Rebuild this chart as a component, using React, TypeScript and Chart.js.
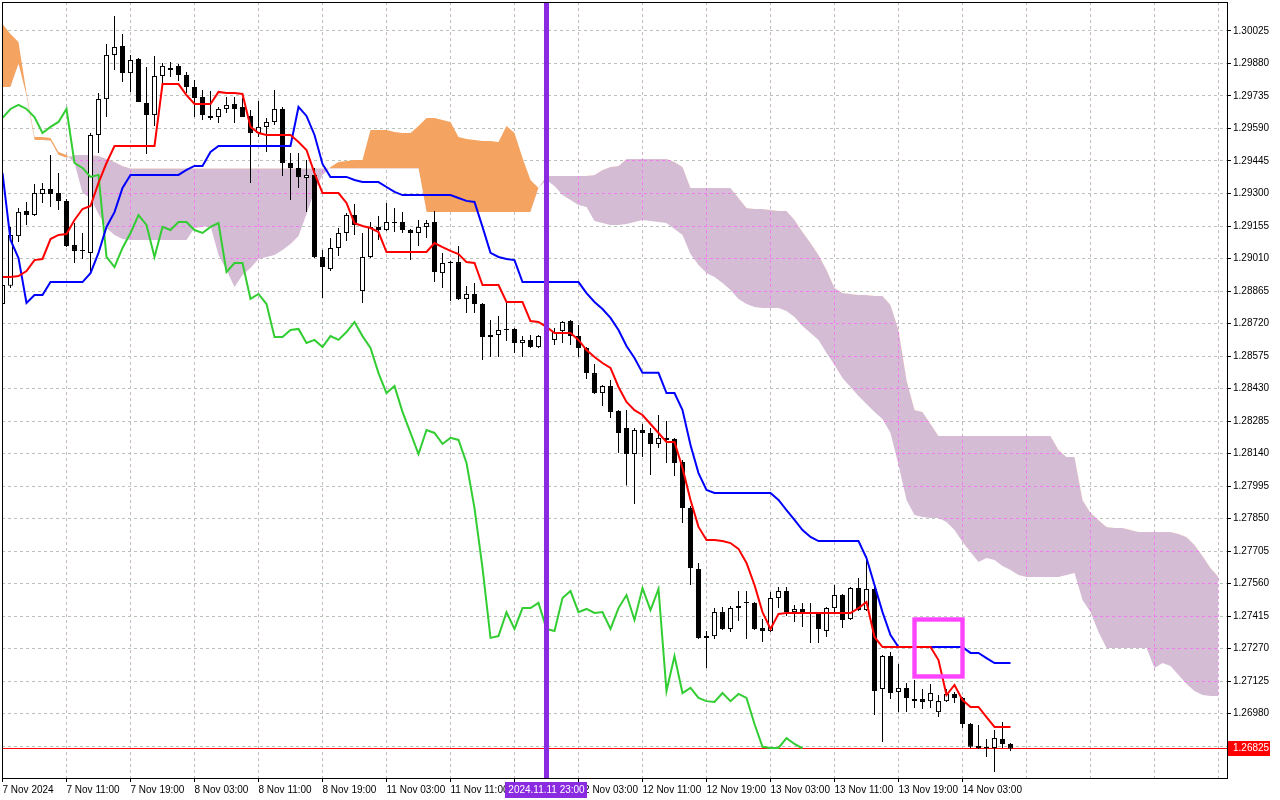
import { useEffect, useRef } from "react";
import { Chart, registerables, type Plugin } from "chart.js";

Chart.register(...registerables);

// H1 candles, bar index 0 = 7 Nov 2024 03:00
const OPEN = [
  1.28807, 1.28888, 1.2911, 1.29222, 1.29204, 1.29298, 1.2932, 1.29302, 1.29267, 1.2907,
  1.29048, 1.29035, 1.29561, 1.29721, 1.29918, 1.29958, 1.29837, 1.299, 1.29704, 1.2965,
  1.29824, 1.29851, 1.29869, 1.29828, 1.29775, 1.2973, 1.29646, 1.29641, 1.29677, 1.29699,
  1.29686, 1.29646, 1.2957, 1.29597, 1.29619, 1.29677, 1.29436, 1.29414, 1.29369, 1.29383,
  1.29017, 1.28963, 1.29057, 1.29124, 1.29204, 1.28865, 1.29017, 1.29151, 1.29137, 1.29168,
  1.29173, 1.29137, 1.29124, 1.29151, 1.29173, 1.28945, 1.28994, 1.28994, 1.2883, 1.28852,
  1.28807, 1.28669, 1.28669, 1.28691, 1.28696, 1.28633, 1.28647, 1.28615, 1.28664, 1.28647,
  1.28687, 1.28731, 1.28664, 1.28611, 1.28499, 1.2841, 1.28441, 1.2833, 1.28254, 1.28138,
  1.28245, 1.28232, 1.28183, 1.2821, 1.28205, 1.28102, 1.27897, 1.27625, 1.27318, 1.27326,
  1.27433, 1.27358, 1.2746, 1.27478, 1.27474, 1.27362, 1.27349, 1.27496, 1.27527, 1.27433,
  1.27447, 1.27429, 1.27429, 1.27349, 1.27451, 1.27509, 1.27402, 1.2754, 1.27442, 1.27536,
  1.2709, 1.27237, 1.27077, 1.27095, 1.27045, 1.27045, 1.27036, 1.26987, 1.27036, 1.27068,
  1.2705, 1.26934, 1.26836, 1.26832, 1.26827, 1.26867, 1.26845,
];
const HIGH = [
  1.28901, 1.29151, 1.29235, 1.29262, 1.29342, 1.29347, 1.29472, 1.29391, 1.29276, 1.29168,
  1.29124, 1.2957, 1.29748, 1.29967, 1.30092, 1.30011, 1.29918, 1.29904, 1.29864, 1.29913,
  1.29882, 1.29886, 1.29878, 1.29842, 1.29806, 1.29762, 1.29757, 1.29686, 1.2973, 1.2973,
  1.29726, 1.29672, 1.29713, 1.29637, 1.29762, 1.29686, 1.29481, 1.29481, 1.29449, 1.29414,
  1.29048, 1.29102, 1.29146, 1.29213, 1.29253, 1.29124, 1.29173, 1.292, 1.29258, 1.29235,
  1.29217, 1.29142, 1.29182, 1.29182, 1.29222, 1.29035, 1.28999, 1.29066, 1.28887, 1.28901,
  1.28812, 1.28736, 1.28754, 1.28816, 1.287, 1.28664, 1.28669, 1.28669, 1.28691, 1.287,
  1.28731, 1.28736, 1.28714, 1.28615, 1.2854, 1.28446, 1.28468, 1.28334, 1.28334, 1.28254,
  1.28272, 1.28254, 1.28312, 1.28285, 1.2821, 1.28111, 1.27906, 1.27652, 1.27349, 1.27451,
  1.27456, 1.2746, 1.27527, 1.27527, 1.27478, 1.27402, 1.27523, 1.27545, 1.27545, 1.27465,
  1.27474, 1.27474, 1.27433, 1.27456, 1.27554, 1.27514, 1.27545, 1.27585, 1.27683, 1.27563,
  1.27242, 1.27255, 1.27202, 1.27117, 1.2713, 1.2709, 1.27112, 1.27063, 1.2709, 1.27077,
  1.27054, 1.26938, 1.26929, 1.26867, 1.26907, 1.26943, 1.26849,
];
const LOW = [
  1.28798, 1.28879, 1.29084, 1.2916, 1.292, 1.29258, 1.2924, 1.29226, 1.29061, 1.2899,
  1.29008, 1.28945, 1.29481, 1.29641, 1.29851, 1.29797, 1.29753, 1.29708, 1.29476, 1.29601,
  1.29793, 1.2982, 1.29802, 1.29748, 1.29641, 1.29628, 1.29628, 1.29614, 1.29659, 1.29614,
  1.29641, 1.29347, 1.29552, 1.29485, 1.29606, 1.29378, 1.29271, 1.29325, 1.29217, 1.29012,
  1.28834, 1.28954, 1.29021, 1.29088, 1.29115, 1.28812, 1.29012, 1.29093, 1.29133, 1.29128,
  1.29124, 1.29003, 1.29066, 1.29102, 1.28905, 1.28879, 1.28821, 1.28825, 1.28767, 1.28767,
  1.28557, 1.28571, 1.28571, 1.28642, 1.28589, 1.28571, 1.28611, 1.28611, 1.28624, 1.28624,
  1.28633, 1.28624, 1.28571, 1.28473, 1.28406, 1.28352, 1.28299, 1.28143, 1.27998, 1.27915,
  1.28125, 1.28045, 1.28165, 1.28098, 1.2804, 1.2783, 1.27554, 1.27313, 1.27184, 1.27313,
  1.27353, 1.27344, 1.27393, 1.27313, 1.27353, 1.273, 1.27344, 1.27451, 1.27416, 1.27389,
  1.27367, 1.27295, 1.27295, 1.27322, 1.27433, 1.27362, 1.27398, 1.27438, 1.27438, 1.26974,
  1.26854, 1.27045, 1.26987, 1.26987, 1.27005, 1.27001, 1.27005, 1.26965, 1.27032, 1.27028,
  1.26916, 1.26827, 1.26823, 1.26787, 1.2672, 1.26827, 1.26814,
];
const CLOSE = [
  1.28892, 1.29115, 1.29218, 1.29204, 1.29302, 1.2932, 1.29298, 1.29267, 1.29066, 1.29044,
  1.29044, 1.29561, 1.29721, 1.29918, 1.29953, 1.29837, 1.29895, 1.29708, 1.2965, 1.29824,
  1.29869, 1.2986, 1.29828, 1.29775, 1.29726, 1.2965, 1.29637, 1.29677, 1.29695, 1.29677,
  1.29641, 1.2957, 1.29597, 1.29619, 1.29677, 1.29436, 1.29414, 1.29374, 1.29383, 1.29017,
  1.28972, 1.29057, 1.29124, 1.29204, 1.2916, 1.29017, 1.29151, 1.29137, 1.29173, 1.29173,
  1.29137, 1.29124, 1.29151, 1.29168, 1.2895, 1.2899, 1.2899, 1.2883, 1.28852, 1.28807,
  1.2866, 1.2866, 1.28691, 1.28696, 1.28633, 1.28647, 1.28615, 1.28664, 1.28647, 1.28682,
  1.28727, 1.28664, 1.28611, 1.28499, 1.2841, 1.28441, 1.28326, 1.28232, 1.28138, 1.28245,
  1.28232, 1.28183, 1.2821, 1.28201, 1.28098, 1.27897, 1.2763, 1.27318, 1.27326, 1.27433,
  1.27358, 1.27451, 1.27451, 1.27474, 1.27358, 1.27349, 1.27496, 1.27527, 1.27433, 1.27447,
  1.27429, 1.27433, 1.27358, 1.27451, 1.27509, 1.27398, 1.2754, 1.27442, 1.27536, 1.27081,
  1.27237, 1.27072, 1.27095, 1.2705, 1.27036, 1.27032, 1.27072, 1.27036, 1.27068, 1.2705,
  1.26934, 1.26832, 1.26827, 1.26827, 1.26871, 1.26845, 1.26825,
];

const TENKAN = [
  1.28928, 1.28928, 1.28932, 1.28954, 1.29003, 1.29008, 1.29097, 1.29115, 1.29119, 1.29182,
  1.29231, 1.29244, 1.29347, 1.29436, 1.29512, 1.29512, 1.29512, 1.29512, 1.29512, 1.29512,
  1.29788, 1.29788, 1.29788, 1.29739, 1.29699, 1.29699, 1.29699, 1.29753, 1.29748, 1.29748,
  1.29744, 1.29597, 1.2957, 1.29561, 1.29561, 1.29561, 1.29561, 1.2953, 1.29494, 1.29391,
  1.29302, 1.29302, 1.29302, 1.29258, 1.29168, 1.29155, 1.29146, 1.29128, 1.29039, 1.29039,
  1.29039, 1.29039, 1.29039, 1.29039, 1.29079, 1.29061, 1.29044, 1.2903, 1.28994, 1.2899,
  1.28892, 1.28892, 1.28892, 1.28816, 1.28816, 1.28816, 1.28731, 1.28727, 1.28705, 1.28678,
  1.28678, 1.28678, 1.28647, 1.28602, 1.28571, 1.28544, 1.28522, 1.28437, 1.2837, 1.28334,
  1.28312, 1.28272, 1.28232, 1.28192, 1.28192, 1.28076, 1.27933, 1.27813, 1.27755, 1.27755,
  1.2775, 1.27741, 1.27715, 1.27652, 1.27554, 1.27433, 1.27358, 1.27425, 1.27429, 1.27429,
  1.27429, 1.27429, 1.27429, 1.27429, 1.27429, 1.27429, 1.27429, 1.27451, 1.27478, 1.27322,
  1.27277, 1.27277, 1.27277, 1.27277, 1.27277, 1.27277, 1.27277, 1.27219, 1.27063, 1.27108,
  1.27041, 1.2701, 1.2701, 1.26965, 1.26921, 1.26921, 1.26921,
];
const KIJUN = [
  1.29391, 1.29093, 1.29012, 1.28812, 1.28847, 1.28847, 1.28905, 1.28905, 1.28905, 1.28905,
  1.28905, 1.28945, 1.29035, 1.29151, 1.29217, 1.29325, 1.29383, 1.29383, 1.29383, 1.29383,
  1.29383, 1.29383, 1.29383, 1.29405, 1.29423, 1.29423, 1.29485, 1.29512, 1.29512, 1.29512,
  1.29512, 1.29512, 1.29512, 1.29512, 1.29512, 1.29512, 1.29512, 1.29686, 1.29646, 1.29561,
  1.29432, 1.29374, 1.29374, 1.29374, 1.2936, 1.29351, 1.29351, 1.29351, 1.29329, 1.29307,
  1.29293, 1.29293, 1.29293, 1.29293, 1.29293, 1.29293, 1.29293, 1.2928, 1.29267, 1.29262,
  1.29151, 1.29035, 1.29017, 1.29008, 1.29003, 1.28905, 1.28905, 1.28905, 1.28905, 1.28905,
  1.28905, 1.28905, 1.28905, 1.28856, 1.28816, 1.28785, 1.28745, 1.28691, 1.2862, 1.28566,
  1.285, 1.285, 1.285, 1.2841, 1.2841, 1.28334, 1.28178, 1.28053, 1.27978, 1.27964,
  1.27964, 1.27964, 1.27964, 1.27964, 1.27964, 1.27964, 1.27964, 1.27933, 1.27888, 1.27844,
  1.27799, 1.27768, 1.2775, 1.2775, 1.2775, 1.2775, 1.2775, 1.2775, 1.27674, 1.27554,
  1.27433, 1.27331, 1.27277, 1.27277, 1.27277, 1.27277, 1.27277, 1.27277, 1.27277, 1.27277,
  1.27277, 1.27251, 1.27251, 1.27228, 1.27206, 1.27206, 1.27206,
];
// lagging span, plotted from bar 0 to bar 100
const CHIKOU = [
  1.29637, 1.29677, 1.29695, 1.29677, 1.29641, 1.2957, 1.29597, 1.29619, 1.29677, 1.29436,
  1.29414, 1.29374, 1.29383, 1.29017, 1.28972, 1.29057, 1.29124, 1.29204, 1.2916, 1.29017,
  1.29151, 1.29137, 1.29173, 1.29173, 1.29137, 1.29124, 1.29151, 1.29168, 1.2895, 1.2899,
  1.2899, 1.2883, 1.28852, 1.28807, 1.2866, 1.2866, 1.28691, 1.28696, 1.28633, 1.28647,
  1.28615, 1.28664, 1.28647, 1.28682, 1.28727, 1.28664, 1.28611, 1.28499, 1.2841, 1.28441,
  1.28326, 1.28232, 1.28138, 1.28245, 1.28232, 1.28183, 1.2821, 1.28201, 1.28098, 1.27897,
  1.2763, 1.27318, 1.27326, 1.27433, 1.27358, 1.27451, 1.27451, 1.27474, 1.27358, 1.27349,
  1.27496, 1.27527, 1.27433, 1.27447, 1.27429, 1.27433, 1.27358, 1.27451, 1.27509, 1.27398,
  1.2754, 1.27442, 1.27536, 1.27081, 1.27237, 1.27072, 1.27095, 1.2705, 1.27036, 1.27032,
  1.27072, 1.27036, 1.27068, 1.2705, 1.26934, 1.26832, 1.26827, 1.26827, 1.26871, 1.26845,
  1.26825,
];
// cloud, bar 0 to bar 152 (26 bars past the last candle)
const SPAN_A = [
  1.30056, 1.30011, 1.29976, 1.29748, 1.29552, 1.29552, 1.29548, 1.29485, 1.29472, 1.29436,
  1.29302, 1.2928, 1.29209, 1.29146, 1.29115, 1.29097, 1.29093, 1.29093, 1.29093, 1.29093,
  1.29093, 1.29093, 1.29093, 1.29093, 1.29146, 1.29151, 1.29155, 1.29026, 1.28959, 1.28883,
  1.28937, 1.28968, 1.29008, 1.29017, 1.29026, 1.29048, 1.29075, 1.2911, 1.29209, 1.29311,
  1.29383, 1.29418, 1.2944, 1.29445, 1.29449, 1.29449, 1.29583, 1.29583, 1.29583, 1.29574,
  1.2957, 1.2957, 1.29601, 1.29637, 1.29637, 1.29628, 1.29619, 1.29552, 1.29543, 1.29539,
  1.29534, 1.29534, 1.2953, 1.29601, 1.2957, 1.29458, 1.2936, 1.29325, 1.2936, 1.29333,
  1.29293, 1.29271, 1.29249, 1.2924, 1.29177, 1.29168, 1.2916, 1.2916, 1.29164, 1.29173,
  1.29182, 1.29177, 1.29173, 1.29168, 1.29142, 1.29115, 1.2903, 1.28981, 1.28945, 1.28928,
  1.28901, 1.2887, 1.28829, 1.28807, 1.28794, 1.28789, 1.28789, 1.28789, 1.28776, 1.28749,
  1.28709, 1.28678, 1.28647, 1.28589, 1.28535, 1.28477, 1.28437, 1.28397, 1.28361, 1.28325,
  1.28294, 1.28232, 1.28089, 1.27933, 1.27866, 1.27857, 1.27853, 1.27853, 1.27835, 1.27799,
  1.27746, 1.27701, 1.27657, 1.27674, 1.27665, 1.27639, 1.27621, 1.27598, 1.2759, 1.2759,
  1.2759, 1.2759, 1.2759, 1.27598, 1.27607, 1.27487, 1.27433, 1.27344, 1.27273, 1.27273,
  1.27273, 1.27273, 1.27273, 1.27273, 1.27184, 1.27206, 1.27193, 1.27153, 1.27112, 1.27081,
  1.27063, 1.27059, 1.27059,
];
const SPAN_B = [
  1.29775, 1.29775, 1.29878, 1.29735, 1.29539, 1.29539, 1.29535, 1.29472, 1.29459, 1.29472,
  1.29472, 1.29472, 1.29467, 1.29454, 1.2944, 1.29423, 1.29412, 1.29412, 1.29412, 1.29412,
  1.29412, 1.29412, 1.29412, 1.29412, 1.29412, 1.29412, 1.29412, 1.29412, 1.29412, 1.29412,
  1.29412, 1.29412, 1.29412, 1.29412, 1.29412, 1.29412, 1.29412, 1.29412, 1.29412, 1.29412,
  1.29412, 1.29412, 1.29412, 1.29412, 1.29412, 1.29412, 1.29412, 1.29412, 1.29412, 1.29412,
  1.29412, 1.29412, 1.29412, 1.29217, 1.29217, 1.29217, 1.29217, 1.29217, 1.29217, 1.29217,
  1.29217, 1.29217, 1.29217, 1.29217, 1.29217, 1.29217, 1.29217, 1.29325, 1.29378, 1.29378,
  1.29378, 1.29378, 1.29378, 1.29378, 1.29383, 1.29405, 1.29418, 1.29423, 1.29454, 1.29454,
  1.29454, 1.29454, 1.29454, 1.29454, 1.2944, 1.29418, 1.29325, 1.29325, 1.29325, 1.29325,
  1.29325, 1.29325, 1.2928, 1.29235, 1.29231, 1.29231, 1.29226, 1.29222, 1.29222, 1.29182,
  1.29128, 1.29079, 1.29026, 1.28959, 1.28879, 1.28856, 1.28852, 1.28847, 1.28847, 1.28843,
  1.28843, 1.28803, 1.28691, 1.28468, 1.28334, 1.28325, 1.28272, 1.28218, 1.28218, 1.28218,
  1.28218, 1.28218, 1.28218, 1.28218, 1.28218, 1.28218, 1.28218, 1.28218, 1.28218, 1.28218,
  1.28218, 1.28218, 1.28156, 1.28125, 1.28125, 1.27933, 1.27875, 1.27844, 1.27813, 1.27808,
  1.27808, 1.27799, 1.2779, 1.2779, 1.2779, 1.2779, 1.2779, 1.27781, 1.27768, 1.27732,
  1.27683, 1.2763, 1.2759,
];

// one label every 8 bars
const TIME_LABELS = [
  "7 Nov 2024", "7 Nov 11:00", "7 Nov 19:00", "8 Nov 03:00", "8 Nov 11:00", "8 Nov 19:00",
  "11 Nov 03:00", "11 Nov 11:00", "11 Nov 19:00", "12 Nov 03:00", "12 Nov 11:00", "12 Nov 19:00",
  "13 Nov 03:00", "13 Nov 11:00", "13 Nov 19:00", "14 Nov 03:00",
];
const PRICE_TICKS = [
  1.30025, 1.2988, 1.29735, 1.2959, 1.29445, 1.293, 1.29155, 1.2901, 1.28865, 1.2872, 1.28575, 1.2843,
  1.28285, 1.2814, 1.27995, 1.2785, 1.27705, 1.2756, 1.27415, 1.2727, 1.27125, 1.2698, 1.26835,
];
const LAST_PRICE = 1.26825;
const MARKER_BAR = 68;
const MARKER_LABEL = "2024.11.11 23:00";
const BOX_BARS = [114, 120];
const BOX_PRICES = [1.274, 1.27146];

const FONT = "'Liberation Sans', Arial, sans-serif";
const LAST_GRID_BAR = 152;

const points = (arr: number[]) => arr.map((y, x) => ({ x, y }));
const align = (p: number) => Math.round(p - 0.5) + 0.5;

const overlays: Plugin = {
  id: "mtOverlays",
  beforeDatasetsDraw(chart) {
    const { ctx, chartArea: a, scales } = chart;
    const py = align(scales.y.getPixelForValue(LAST_PRICE));
    ctx.save();
    ctx.strokeStyle = "#ff0000";
    ctx.lineWidth = 1;
    ctx.beginPath();
    ctx.moveTo(a.left, py);
    ctx.lineTo(a.right, py);
    ctx.stroke();
    ctx.restore();
  },
  // grid shows through the bearish (thistle) cloud in magenta
  afterDatasetDraw(chart, args) {
    if (args.index !== 0) return;
    const { ctx, chartArea: a, scales } = chart;
    const { x, y } = scales;
    ctx.save();
    ctx.beginPath();
    SPAN_B.forEach((b, i) => {
      const px = x.getPixelForValue(i);
      const py = y.getPixelForValue(b);
      if (i === 0) ctx.moveTo(px, py);
      else ctx.lineTo(px, py);
    });
    for (let i = SPAN_B.length - 1; i >= 0; i--) {
      ctx.lineTo(x.getPixelForValue(i), y.getPixelForValue(Math.min(SPAN_A[i], SPAN_B[i])));
    }
    ctx.closePath();
    ctx.clip();
    ctx.strokeStyle = "#f07cf0";
    ctx.lineWidth = 1;
    ctx.setLineDash([3, 3]);
    for (let v = 0; v <= LAST_GRID_BAR; v += 8) {
      const px = align(x.getPixelForValue(v));
      ctx.beginPath();
      ctx.moveTo(px, a.top);
      ctx.lineTo(px, a.bottom);
      ctx.stroke();
    }
    PRICE_TICKS.forEach((p) => {
      const py = align(y.getPixelForValue(p));
      ctx.beginPath();
      ctx.moveTo(a.left, py);
      ctx.lineTo(a.right, py);
      ctx.stroke();
    });
    ctx.restore();
  },
  afterDatasetsDraw(chart) {
    const { ctx, chartArea: a, scales } = chart;
    const { x, y } = scales;
    ctx.save();
    const vx = x.getPixelForValue(MARKER_BAR);
    ctx.fillStyle = "#8a2be2";
    ctx.fillRect(Math.round(vx - 2.5), a.top, 5, a.bottom - a.top);

    const bx0 = x.getPixelForValue(BOX_BARS[0]);
    const bx1 = x.getPixelForValue(BOX_BARS[1]);
    const by0 = y.getPixelForValue(BOX_PRICES[0]);
    const by1 = y.getPixelForValue(BOX_PRICES[1]);
    ctx.strokeStyle = "#ff44ff";
    ctx.lineWidth = 4.4;
    ctx.strokeRect(bx0, by0, bx1 - bx0, by1 - by0);
    ctx.restore();
  },
  afterDraw(chart) {
    const { ctx, chartArea: a, scales } = chart;
    ctx.save();
    ctx.strokeStyle = "#000";
    ctx.lineWidth = 1;
    ctx.strokeRect(a.left + 0.5, a.top + 0.5, a.right - a.left, a.bottom - a.top);

    ctx.font = `10px ${FONT}`;
    ctx.textBaseline = "middle";

    const vx = scales.x.getPixelForValue(MARKER_BAR);
    const w = ctx.measureText(MARKER_LABEL).width + 6;
    ctx.fillStyle = "#8a2be2";
    ctx.fillRect(Math.round(vx - w / 2), a.bottom + 4, Math.round(w), 16);
    ctx.fillStyle = "#fff";
    ctx.textAlign = "center";
    ctx.fillText(MARKER_LABEL, vx, a.bottom + 12.5);

    const py = scales.y.getPixelForValue(LAST_PRICE);
    ctx.fillStyle = "#ff0000";
    ctx.fillRect(a.right + 1, Math.round(py) - 7, 42, 15);
    ctx.fillStyle = "#fff";
    ctx.textAlign = "left";
    ctx.fillText(LAST_PRICE.toFixed(5), a.right + 6, Math.round(py) + 0.5);
    ctx.restore();
  },
};

function IchimokuChart() {
  const canvasRef = useRef<HTMLCanvasElement>(null);
  const chartRef = useRef<Chart | null>(null);

  useEffect(() => {
    if (!canvasRef.current) return;
    if (chartRef.current) chartRef.current.destroy();

    const bodyFill = CLOSE.map((c, i) => (c >= OPEN[i] ? "#ffffff" : "#000000"));

    chartRef.current = new Chart(canvasRef.current, {
      type: "line",
      data: {
        datasets: [
          {
            label: "Senkou Span A",
            data: points(SPAN_A),
            borderColor: "rgba(0,0,0,0)",
            borderWidth: 0,
            pointRadius: 0,
            tension: 0,
            fill: { target: "+1", above: "#f4a460", below: "#d5bcd5" },
            order: 10,
          },
          {
            label: "Senkou Span B",
            data: points(SPAN_B),
            borderColor: "rgba(0,0,0,0)",
            borderWidth: 0,
            pointRadius: 0,
            tension: 0,
            fill: false,
            order: 11,
          },
          {
            type: "bar",
            label: "wick",
            data: LOW.map((l, i) => ({ x: i, y: [l, HIGH[i]] })),
            backgroundColor: "#000",
            borderWidth: 0,
            barThickness: 1,
            maxBarThickness: 1,
            grouped: false,
            inflateAmount: 0,
            order: 6,
          },
          {
            type: "bar",
            label: "body",
            data: OPEN.map((o, i) => ({ x: i, y: [o, CLOSE[i]] })),
            backgroundColor: bodyFill,
            borderColor: "#000",
            borderWidth: 1,
            borderSkipped: false,
            barThickness: 5,
            maxBarThickness: 5,
            grouped: false,
            inflateAmount: 0,
            order: 5,
          },
          {
            label: "Chikou Span",
            data: points(CHIKOU),
            borderColor: "#32cd32",
            borderWidth: 2,
            pointRadius: 0,
            tension: 0,
            fill: false,
            order: 3,
          },
          {
            label: "Kijun-sen",
            data: points(KIJUN),
            borderColor: "#0000ff",
            borderWidth: 2,
            pointRadius: 0,
            tension: 0,
            fill: false,
            order: 2,
          },
          {
            label: "Tenkan-sen",
            data: points(TENKAN),
            borderColor: "#ff0000",
            borderWidth: 2,
            pointRadius: 0,
            tension: 0,
            fill: false,
            order: 1,
          },
        ],
      },
      options: {
        responsive: false,
        animation: false,
        events: [],
        layout: { padding: { left: 2, top: 2, right: 0, bottom: 0 } },
        plugins: {
          legend: { display: false },
          tooltip: { enabled: false },
        },
        scales: {
          x: {
            type: "linear",
            min: -0.0625,
            max: 153.0625,
            offset: false,
            afterBuildTicks: (scale) => {
              const ticks = [];
              for (let v = 0; v <= LAST_GRID_BAR; v += 8) ticks.push({ value: v });
              scale.ticks = ticks;
            },
            afterFit: (scale) => {
              scale.height = 22;
              scale.paddingLeft = 0;
              scale.paddingRight = 0;
            },
            grid: {
              offset: false,
              color: "#c4b6c4",
              lineWidth: 1,
              drawTicks: true,
              tickLength: 4,
              tickColor: (ctx) => (ctx.index < TIME_LABELS.length ? "#000" : "rgba(0,0,0,0)"),
            },
            border: { display: false, dash: [3, 3] },
            ticks: {
              autoSkip: false,
              maxRotation: 0,
              minRotation: 0,
              align: "start",
              padding: 2,
              color: "#000",
              font: { family: FONT, size: 10 },
              callback: (value) => TIME_LABELS[Number(value) / 8] ?? "",
            },
          },
          y: {
            type: "linear",
            position: "right",
            min: 1.2669312,
            max: 1.3015408,
            afterBuildTicks: (scale) => {
              scale.ticks = PRICE_TICKS.map((v) => ({ value: v }));
            },
            afterFit: (scale) => {
              scale.width = 53;
              scale.paddingTop = 0;
              scale.paddingBottom = 0;
            },
            grid: {
              color: "#b8c2b8",
              lineWidth: 1,
              drawTicks: true,
              tickLength: 4,
              tickColor: "#000",
            },
            border: { display: false, dash: [3, 3] },
            ticks: {
              autoSkip: false,
              padding: 2,
              color: "#000",
              font: { family: FONT, size: 10 },
              callback: (value) => Number(value).toFixed(5),
            },
          },
        },
      },
      plugins: [overlays],
    });

    return () => chartRef.current?.destroy();
  }, []);

  return (
    <canvas
      ref={canvasRef}
      width={1280}
      height={800}
      role="img"
      aria-label="GBPUSD H1 candlestick chart with Ichimoku cloud"
    />
  );
}

export default function App() {
  useEffect(() => {
    document.body.style.margin = "0";
  }, []);

  return (
    <div style={{ width: 1280, height: 800, background: "#fff" }}>
      <IchimokuChart />
    </div>
  );
}
